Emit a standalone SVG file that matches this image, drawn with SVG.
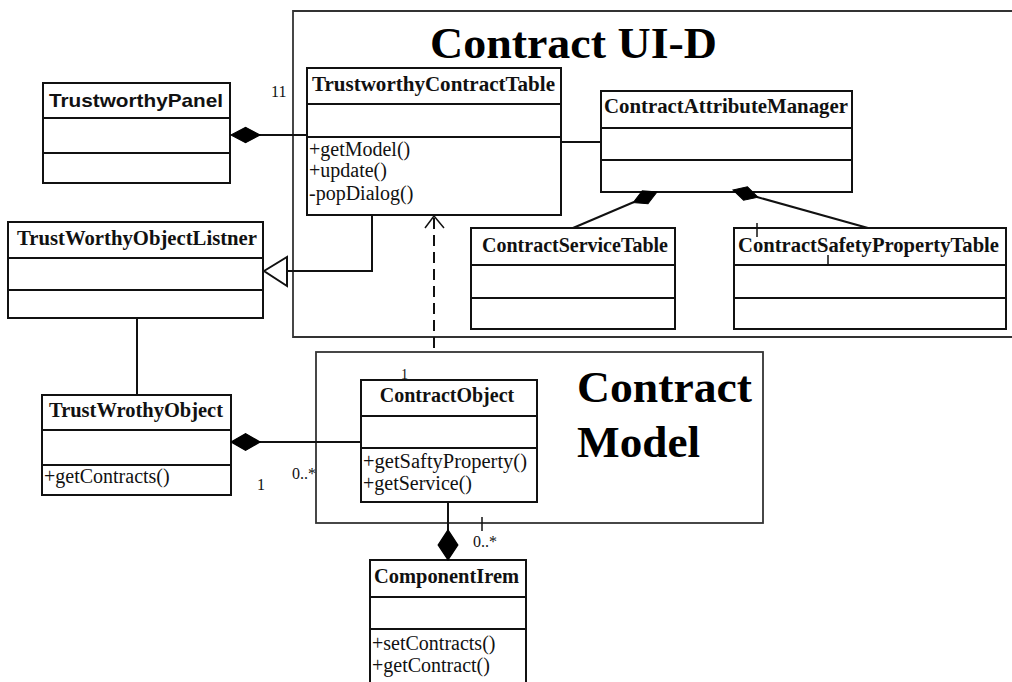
<svg xmlns="http://www.w3.org/2000/svg" width="1012" height="682" viewBox="0 0 1012 682">
  <style>
    .box{fill:#fff;stroke:#111;stroke-width:2}
    .sep{stroke:#111;stroke-width:2}
    .frame{fill:none;stroke:#333;stroke-width:1.8}
    .cn{font-family:"Liberation Serif","Times New Roman",serif;font-weight:bold;font-size:20px;fill:#111}
    .cs{font-family:"Liberation Sans",Arial,sans-serif;font-weight:bold;font-size:19px;fill:#111}
    .m{font-family:"Liberation Serif","Times New Roman",serif;font-size:20px;fill:#111}
    .lbl{font-family:"Liberation Serif","Times New Roman",serif;font-size:16px;fill:#111}
    .title{font-family:"Liberation Serif","Times New Roman",serif;font-weight:bold;font-size:45px;fill:#000}
    .ln{stroke:#111;stroke-width:2;fill:none}
    .dash{stroke:#111;stroke-width:2;fill:none;stroke-dasharray:11 6}
    .dia{fill:#000;stroke:#000;stroke-width:1}
  </style>
  <defs>
    <polygon id="diamond" points="0,0 13,-7 26,0 13,7"/>
  </defs>

  <!-- package frames -->
  <g id="pkg-contract-ui">
    <path class="frame" d="M1012,11 H293 V337 H1012"/>
    <text class="title" x="430" y="58" textLength="287" lengthAdjust="spacingAndGlyphs">Contract UI-D</text>
  </g>
  <g id="pkg-contract-model">
    <rect class="frame" x="316" y="352" width="447" height="171"/>
    <text class="title" x="577" y="402" textLength="175" lengthAdjust="spacingAndGlyphs">Contract</text>
    <text class="title" x="577" y="457" textLength="123" lengthAdjust="spacingAndGlyphs">Model</text>
  </g>

  <!-- classes -->
  <g id="TrustworthyPanel">
    <rect class="box" x="43" y="83" width="187" height="100"/>
    <line class="sep" x1="43" y1="118" x2="230" y2="118"/>
    <line class="sep" x1="43" y1="153" x2="230" y2="153"/>
    <text class="cs" x="49" y="107" textLength="174" lengthAdjust="spacingAndGlyphs">TrustworthyPanel</text>
  </g>

  <g id="TrustworthyContractTable">
    <rect class="box" x="307" y="68" width="254" height="147"/>
    <line class="sep" x1="307" y1="104" x2="561" y2="104"/>
    <line class="sep" x1="307" y1="137" x2="561" y2="137"/>
    <text class="cn" x="312" y="91" textLength="243" lengthAdjust="spacingAndGlyphs">TrustworthyContractTable</text>
    <text class="m" x="309" y="156">+getModel()</text>
    <text class="m" x="309" y="177">+update()</text>
    <text class="m" x="309" y="200">-popDialog()</text>
  </g>

  <g id="ContractAttributeManager">
    <rect class="box" x="601" y="91" width="251" height="101"/>
    <line class="sep" x1="601" y1="128" x2="852" y2="128"/>
    <line class="sep" x1="601" y1="160" x2="852" y2="160"/>
    <text class="cn" x="604" y="113" textLength="244" lengthAdjust="spacingAndGlyphs">ContractAttributeManager</text>
  </g>

  <g id="ContractServiceTable">
    <rect class="box" x="471" y="228" width="204" height="101"/>
    <line class="sep" x1="471" y1="265" x2="675" y2="265"/>
    <line class="sep" x1="471" y1="298" x2="675" y2="298"/>
    <text class="cn" x="575" y="252" text-anchor="middle">ContractServiceTable</text>
  </g>

  <g id="ContractSafetyPropertyTable">
    <rect class="box" x="734" y="228" width="272" height="101"/>
    <line class="sep" x1="734" y1="265" x2="1006" y2="265"/>
    <line class="sep" x1="734" y1="298" x2="1006" y2="298"/>
    <text class="cn" x="738" y="252" textLength="261" lengthAdjust="spacingAndGlyphs">ContractSafetyPropertyTable</text>
  </g>

  <g id="TrustWorthyObjectListner">
    <rect class="box" x="8" y="222" width="255" height="96"/>
    <line class="sep" x1="8" y1="258" x2="263" y2="258"/>
    <line class="sep" x1="8" y1="290" x2="263" y2="290"/>
    <text class="cn" x="17" y="245" textLength="240" lengthAdjust="spacingAndGlyphs">TrustWorthyObjectListner</text>
  </g>

  <g id="TrustWrothyObject">
    <rect class="box" x="42" y="395" width="189" height="100"/>
    <line class="sep" x1="42" y1="430" x2="231" y2="430"/>
    <line class="sep" x1="42" y1="465" x2="231" y2="465"/>
    <text class="cn" x="49" y="417" textLength="174" lengthAdjust="spacingAndGlyphs">TrustWrothyObject</text>
    <text class="m" x="44" y="483">+getContracts()</text>
  </g>

  <g id="ContractObject">
    <rect class="box" x="361" y="380" width="176" height="122"/>
    <line class="sep" x1="361" y1="416" x2="537" y2="416"/>
    <line class="sep" x1="361" y1="448" x2="537" y2="448"/>
    <text class="cn" x="447" y="402" text-anchor="middle">ContractObject</text>
    <text class="m" x="363" y="468" textLength="164" lengthAdjust="spacingAndGlyphs">+getSaftyProperty()</text>
    <text class="m" x="363" y="490">+getService()</text>
  </g>

  <g id="ComponentIrem">
    <rect class="box" x="370" y="560" width="156" height="140"/>
    <line class="sep" x1="370" y1="597" x2="526" y2="597"/>
    <line class="sep" x1="370" y1="629" x2="526" y2="629"/>
    <text class="cn" x="374" y="583" textLength="145" lengthAdjust="spacingAndGlyphs">ComponentIrem</text>
    <text class="m" x="372" y="650">+setContracts()</text>
    <text class="m" x="372" y="672">+getContract()</text>
  </g>

  <!-- connectors -->
  <g id="connectors">
    <!-- TrustworthyPanel composes TrustworthyContractTable -->
    <line class="ln" x1="258" y1="135" x2="307" y2="135"/>
    <use href="#diamond" class="dia" transform="translate(231,135) scale(1.12,1.1)"/>
    <text class="lbl" x="271" y="97">11</text>

    <!-- TrustworthyContractTable to ContractAttributeManager -->
    <line class="ln" x1="561" y1="142" x2="601" y2="142"/>

    <!-- ContractAttributeManager composes the two tables -->
    <line class="ln" x1="634" y1="202" x2="573" y2="228"/>
    <use href="#diamond" class="dia" transform="translate(657,192) rotate(156)"/>
    <line class="ln" x1="757" y1="197" x2="868" y2="228"/>
    <use href="#diamond" class="dia" transform="translate(733,190) rotate(16)"/>
    <line class="ln" x1="757" y1="223" x2="757" y2="237" style="stroke-width:1.5"/>
    <line class="ln" x1="828" y1="255" x2="828" y2="265" style="stroke-width:1.5"/>

    <!-- TrustworthyContractTable realizes TrustWorthyObjectListner -->
    <polyline class="ln" points="372,215 372,271 287,271"/>
    <polygon points="264,271 287,257 287,286" fill="#fff" stroke="#111" stroke-width="2"/>

    <!-- ContractObject depends on TrustworthyContractTable -->
    <line class="dash" x1="434" y1="218" x2="434" y2="352"/>
    <polyline class="ln" points="425,228 434,216 444,228" style="stroke-width:1.5"/>
    <text class="lbl" x="401" y="379" style="font-size:14px">1</text>

    <!-- TrustWorthyObjectListner to TrustWrothyObject -->
    <line class="ln" x1="137" y1="318" x2="137" y2="395"/>

    <!-- TrustWrothyObject composes ContractObject -->
    <line class="ln" x1="257" y1="442" x2="361" y2="442"/>
    <use href="#diamond" class="dia" transform="translate(231,442) scale(1.12,1.2)"/>
    <text class="lbl" x="257" y="490">1</text>
    <text class="lbl" x="292" y="479">0..*</text>

    <!-- ContractObject composes ComponentIrem -->
    <line class="ln" x1="448" y1="502" x2="448" y2="531"/>
    <use href="#diamond" class="dia" transform="translate(448,530) rotate(90) scale(1.15,1.4)"/>
    <line class="ln" x1="482" y1="517" x2="482" y2="531" style="stroke-width:1.5"/>
    <text class="lbl" x="473" y="547">0..*</text>
  </g>
</svg>
